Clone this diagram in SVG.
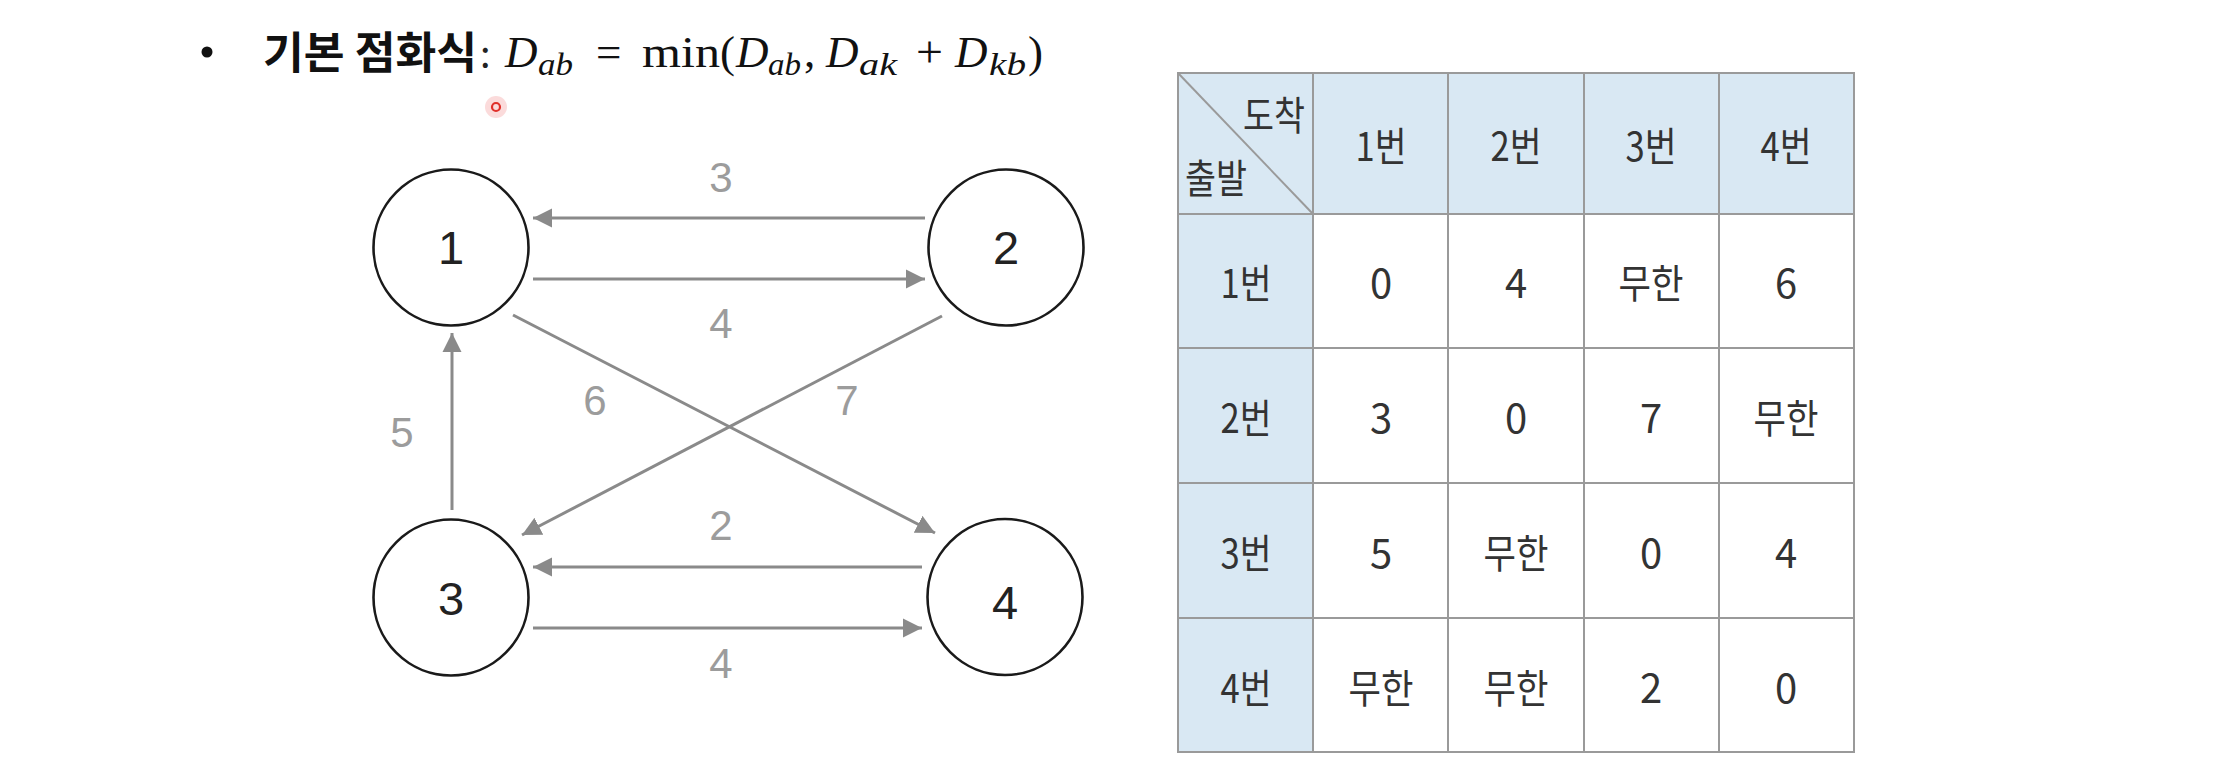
<svg xmlns="http://www.w3.org/2000/svg" width="2224" height="782" viewBox="0 0 2224 782">
<style>
.node{fill:#fff;stroke:#1a1a1a;stroke-width:2.6}
.nlab{font-family:"Liberation Sans",Arial,sans-serif;font-size:47px;fill:#222;text-anchor:middle}
.edge{stroke:#8a8a8a;stroke-width:3;fill:none}
.elab{font-family:"Liberation Sans",Arial,sans-serif;font-size:42px;fill:#9c9c9c;text-anchor:middle}
.hdr{fill:#d9e8f3}
.grid{stroke:#9a9a9a;stroke-width:2;fill:none}
.cell{font-family:"Noto Sans CJK KR","Noto Sans",sans-serif;font-size:40px;fill:#333;text-anchor:middle;dominant-baseline:central}
.math{font-family:"Liberation Serif","Times New Roman",serif;fill:#111;font-size:45px}
.mi{font-style:italic}
.sub{font-style:italic;font-size:32px}
</style>
<defs>
<marker id="arr" markerUnits="userSpaceOnUse" markerWidth="20" markerHeight="20" viewBox="0 0 20 20" refX="19" refY="10" orient="auto">
<path d="M0,0.5 L19,10 L0,19.5 Z" fill="#8a8a8a"/>
</marker>
</defs>
<rect width="2224" height="782" fill="#fff"/>
<g id="title">
<circle cx="207" cy="52" r="5.5" fill="#111"/>
<text x="263" y="69" font-family="Noto Sans CJK KR,sans-serif" font-weight="bold" font-size="44" fill="#111" textLength="214" lengthAdjust="spacingAndGlyphs">기본 점화식</text>
<text x="480" y="68" font-family="Noto Sans CJK KR,sans-serif" font-size="38" fill="#222">:</text>
<text class="math" y="67"><tspan class="mi" x="505">D</tspan><tspan class="sub" x="538" y="75" textLength="35" lengthAdjust="spacingAndGlyphs">ab</tspan><tspan x="596" y="67">=</tspan><tspan x="642" textLength="78" lengthAdjust="spacingAndGlyphs">min</tspan><tspan x="720">(</tspan><tspan class="mi" x="736">D</tspan><tspan class="sub" x="768" y="75" textLength="33" lengthAdjust="spacingAndGlyphs">ab</tspan><tspan x="804" y="67">,</tspan><tspan class="mi" x="826">D</tspan><tspan class="sub" x="859" y="75" textLength="38" lengthAdjust="spacingAndGlyphs">ak</tspan><tspan x="916" y="67" textLength="27" lengthAdjust="spacingAndGlyphs">+</tspan><tspan class="mi" x="955">D</tspan><tspan class="sub" x="989" y="75" textLength="37" lengthAdjust="spacingAndGlyphs">kb</tspan><tspan x="1028" y="67">)</tspan></text>
<circle cx="496" cy="107" r="11" fill="#f6b0b0" opacity="0.45"/>
<circle cx="496" cy="107" r="4" fill="none" stroke="#e0302a" stroke-width="2.2"/>
</g>
<g id="connectors">
<line class="edge" x1="925" y1="218" x2="533" y2="218" marker-end="url(#arr)"/>
<line class="edge" x1="533" y1="279" x2="925" y2="279" marker-end="url(#arr)"/>
<line class="edge" x1="452" y1="510" x2="452" y2="333" marker-end="url(#arr)"/>
<line class="edge" x1="513" y1="315" x2="935" y2="533" marker-end="url(#arr)"/>
<line class="edge" x1="942" y1="316" x2="522" y2="535" marker-end="url(#arr)"/>
<line class="edge" x1="922" y1="567" x2="533" y2="567" marker-end="url(#arr)"/>
<line class="edge" x1="533" y1="628" x2="922" y2="628" marker-end="url(#arr)"/>
<text class="elab" x="721" y="192">3</text>
<text class="elab" x="721" y="338">4</text>
<text class="elab" x="402" y="447">5</text>
<text class="elab" x="595" y="415">6</text>
<text class="elab" x="847" y="415">7</text>
<text class="elab" x="721" y="540">2</text>
<text class="elab" x="721" y="678">4</text>
</g>
<g id="node1"><ellipse class="node" cx="451" cy="247.5" rx="77.5" ry="78"/><text class="nlab" x="451" y="264">1</text></g>
<g id="node2"><ellipse class="node" cx="1006" cy="247.5" rx="77.5" ry="78"/><text class="nlab" x="1006" y="264">2</text></g>
<g id="node3"><ellipse class="node" cx="451" cy="597.5" rx="77.5" ry="78"/><text class="nlab" x="451" y="615">3</text></g>
<g id="node4"><ellipse class="node" cx="1005" cy="597" rx="77.5" ry="78"/><text class="nlab" x="1005" y="619">4</text></g>
<g id="table">
<rect class="hdr" x="1178" y="73" width="676" height="141"/>
<rect class="hdr" x="1178" y="214" width="135" height="538"/>
<g class="grid">
<rect x="1178" y="73" width="676" height="679"/>
<line x1="1313" y1="73" x2="1313" y2="752"/>
<line x1="1448" y1="73" x2="1448" y2="752"/>
<line x1="1584" y1="73" x2="1584" y2="752"/>
<line x1="1719" y1="73" x2="1719" y2="752"/>
<line x1="1178" y1="214" x2="1854" y2="214"/>
<line x1="1178" y1="348" x2="1854" y2="348"/>
<line x1="1178" y1="483" x2="1854" y2="483"/>
<line x1="1178" y1="618" x2="1854" y2="618"/>
<line x1="1178" y1="73" x2="1313" y2="214"/>
</g>
<text class="cell" x="1274" y="113" textLength="62" lengthAdjust="spacingAndGlyphs">도착</text>
<text class="cell" x="1216" y="176" textLength="62" lengthAdjust="spacingAndGlyphs">출발</text>
<text class="cell" x="1381" y="144" textLength="51" lengthAdjust="spacingAndGlyphs">1번</text>
<text class="cell" x="1516" y="144" textLength="51" lengthAdjust="spacingAndGlyphs">2번</text>
<text class="cell" x="1651" y="144" textLength="51" lengthAdjust="spacingAndGlyphs">3번</text>
<text class="cell" x="1786" y="144" textLength="51" lengthAdjust="spacingAndGlyphs">4번</text>
<text class="cell" x="1246" y="281" textLength="51" lengthAdjust="spacingAndGlyphs">1번</text>
<text class="cell" x="1246" y="416" textLength="51" lengthAdjust="spacingAndGlyphs">2번</text>
<text class="cell" x="1246" y="551" textLength="51" lengthAdjust="spacingAndGlyphs">3번</text>
<text class="cell" x="1246" y="686" textLength="51" lengthAdjust="spacingAndGlyphs">4번</text>
<text class="cell" x="1381" y="281">0</text>
<text class="cell" x="1516" y="281">4</text>
<text class="cell" x="1651" y="281" textLength="65" lengthAdjust="spacingAndGlyphs">무한</text>
<text class="cell" x="1786" y="281">6</text>
<text class="cell" x="1381" y="416">3</text>
<text class="cell" x="1516" y="416">0</text>
<text class="cell" x="1651" y="416">7</text>
<text class="cell" x="1786" y="416" textLength="65" lengthAdjust="spacingAndGlyphs">무한</text>
<text class="cell" x="1381" y="551">5</text>
<text class="cell" x="1516" y="551" textLength="65" lengthAdjust="spacingAndGlyphs">무한</text>
<text class="cell" x="1651" y="551">0</text>
<text class="cell" x="1786" y="551">4</text>
<text class="cell" x="1381" y="686" textLength="65" lengthAdjust="spacingAndGlyphs">무한</text>
<text class="cell" x="1516" y="686" textLength="65" lengthAdjust="spacingAndGlyphs">무한</text>
<text class="cell" x="1651" y="686">2</text>
<text class="cell" x="1786" y="686">0</text>
</g>
</svg>
